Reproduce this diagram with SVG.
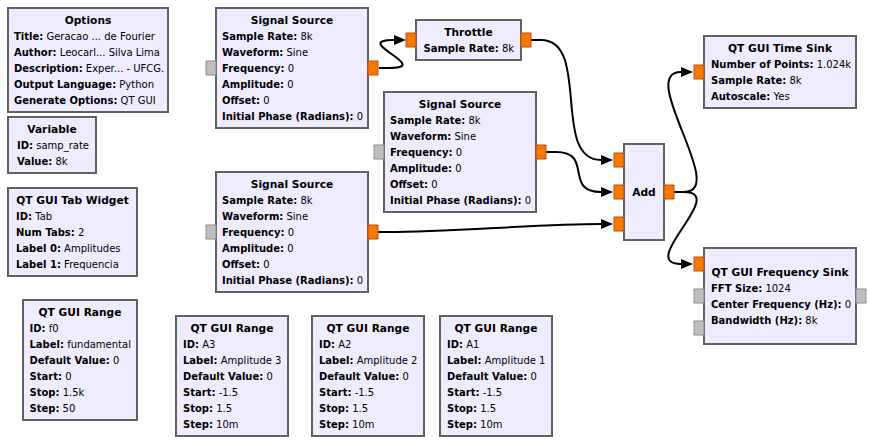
<svg xmlns="http://www.w3.org/2000/svg" width="874" height="444" viewBox="0 0 874 444">
<defs>
<style>
.blk{fill:#F0ECFF;stroke:#616161;stroke-width:2}
.t{font-family:"DejaVu Sans",sans-serif;font-size:10.67px;font-weight:bold;text-anchor:middle;fill:#000}
.p{font-family:"DejaVu Sans",sans-serif;font-size:10px;fill:#000}
.k{font-weight:bold}
.po{fill:#F57900;stroke:#C0501F;stroke-width:1}
.pg{fill:#BEBEBE;stroke:#8C8C8C;stroke-width:1}
.c{fill:none;stroke:#000;stroke-width:2;marker-end:url(#arr)}
</style>
<marker id="arr" viewBox="0 0 12 10" refX="0" refY="5" markerWidth="12" markerHeight="10" markerUnits="userSpaceOnUse" orient="auto">
<path d="M0,0 L12,5 L0,10 z" fill="#000"/>
</marker>
</defs>
<rect width="874" height="444" fill="#fff"/>
<g id="connectors">
<path class="c" d="M379,68 H389 C434,68 349,40 394,40"/>
<path class="c" d="M531,40 H541 C591,40 551,160 601,160"/>
<path class="c" d="M546,152 H556 C594,152 563,192 601,192"/>
<path class="c" d="M378,232 H388 C448,232 541,224 601,224"/>
<path class="c" d="M674,192 H684 C729,192 636,72 681,72"/>
<path class="c" d="M674,192 H684 C729,192 636,264 681,264"/>
</g>
<g id="options">
<rect class="blk" x="8" y="8" width="160" height="104"/>
<text class="t" x="88" y="24">Options</text>
<text class="p" x="14" y="40"><tspan class="k">Title:</tspan> Geracao ... de Fourier</text>
<text class="p" x="14" y="56"><tspan class="k">Author:</tspan> Leocarl... Silva Lima</text>
<text class="p" x="14" y="72"><tspan class="k">Description:</tspan> Exper... - UFCG.</text>
<text class="p" x="14" y="88"><tspan class="k">Output Language:</tspan> Python</text>
<text class="p" x="14" y="104"><tspan class="k">Generate Options:</tspan> QT GUI</text>
</g>
<g id="variable">
<rect class="blk" x="8" y="117" width="88" height="56"/>
<text class="t" x="52" y="133">Variable</text>
<text class="p" x="17" y="149"><tspan class="k">ID:</tspan> samp_rate</text>
<text class="p" x="17" y="165"><tspan class="k">Value:</tspan> 8k</text>
</g>
<g id="tab_widget">
<rect class="blk" x="8" y="188" width="129" height="88"/>
<text class="t" x="72.5" y="204">QT GUI Tab Widget</text>
<text class="p" x="16" y="220"><tspan class="k">ID:</tspan> Tab</text>
<text class="p" x="16" y="236"><tspan class="k">Num Tabs:</tspan> 2</text>
<text class="p" x="16" y="252"><tspan class="k">Label 0:</tspan> Amplitudes</text>
<text class="p" x="16" y="268"><tspan class="k">Label 1:</tspan> Frequencia</text>
</g>
<g id="range_f0">
<rect class="blk" x="23" y="300" width="114" height="120"/>
<text class="t" x="80" y="316">QT GUI Range</text>
<text class="p" x="29.5" y="332"><tspan class="k">ID:</tspan> f0</text>
<text class="p" x="29.5" y="348"><tspan class="k">Label:</tspan> fundamental</text>
<text class="p" x="29.5" y="364"><tspan class="k">Default Value:</tspan> 0</text>
<text class="p" x="29.5" y="380"><tspan class="k">Start:</tspan> 0</text>
<text class="p" x="29.5" y="396"><tspan class="k">Stop:</tspan> 1.5k</text>
<text class="p" x="29.5" y="412"><tspan class="k">Step:</tspan> 50</text>
</g>
<g id="signal_source_1">
<rect class="blk" x="216" y="8" width="152" height="120"/>
<text class="t" x="292" y="24">Signal Source</text>
<text class="p" x="222" y="40"><tspan class="k">Sample Rate:</tspan> 8k</text>
<text class="p" x="222" y="56"><tspan class="k">Waveform:</tspan> Sine</text>
<text class="p" x="222" y="72"><tspan class="k">Frequency:</tspan> 0</text>
<text class="p" x="222" y="88"><tspan class="k">Amplitude:</tspan> 0</text>
<text class="p" x="222" y="104"><tspan class="k">Offset:</tspan> 0</text>
<text class="p" x="222" y="120"><tspan class="k">Initial Phase (Radians):</tspan> 0</text>
<rect class="pg" x="206" y="61" width="10" height="14"/>
<rect class="po" x="368" y="61" width="10" height="14"/>
</g>
<g id="throttle">
<rect class="blk" x="416" y="20" width="105" height="40"/>
<text class="t" x="468.5" y="36">Throttle</text>
<text class="p" x="423.5" y="52"><tspan class="k">Sample Rate:</tspan> 8k</text>
<rect class="po" x="406" y="33" width="10" height="14"/>
<rect class="po" x="521" y="33" width="10" height="14"/>
</g>
<g id="signal_source_2">
<rect class="blk" x="384" y="92" width="152" height="120"/>
<text class="t" x="460" y="108">Signal Source</text>
<text class="p" x="390" y="124"><tspan class="k">Sample Rate:</tspan> 8k</text>
<text class="p" x="390" y="140"><tspan class="k">Waveform:</tspan> Sine</text>
<text class="p" x="390" y="156"><tspan class="k">Frequency:</tspan> 0</text>
<text class="p" x="390" y="172"><tspan class="k">Amplitude:</tspan> 0</text>
<text class="p" x="390" y="188"><tspan class="k">Offset:</tspan> 0</text>
<text class="p" x="390" y="204"><tspan class="k">Initial Phase (Radians):</tspan> 0</text>
<rect class="pg" x="374" y="145" width="10" height="14"/>
<rect class="po" x="536" y="145" width="10" height="14"/>
</g>
<g id="signal_source_3">
<rect class="blk" x="216" y="172" width="152" height="120"/>
<text class="t" x="292" y="188">Signal Source</text>
<text class="p" x="222" y="204"><tspan class="k">Sample Rate:</tspan> 8k</text>
<text class="p" x="222" y="220"><tspan class="k">Waveform:</tspan> Sine</text>
<text class="p" x="222" y="236"><tspan class="k">Frequency:</tspan> 0</text>
<text class="p" x="222" y="252"><tspan class="k">Amplitude:</tspan> 0</text>
<text class="p" x="222" y="268"><tspan class="k">Offset:</tspan> 0</text>
<text class="p" x="222" y="284"><tspan class="k">Initial Phase (Radians):</tspan> 0</text>
<rect class="pg" x="206" y="225" width="10" height="14"/>
<rect class="po" x="368" y="225" width="10" height="14"/>
</g>
<g id="add">
<rect class="blk" x="624" y="144" width="40" height="96"/>
<text class="t" x="644" y="196">Add</text>
<rect class="po" x="614" y="153" width="10" height="14"/>
<rect class="po" x="614" y="185" width="10" height="14"/>
<rect class="po" x="614" y="217" width="10" height="14"/>
<rect class="po" x="664" y="185" width="10" height="14"/>
</g>
<g id="time_sink">
<rect class="blk" x="704" y="36" width="152" height="72"/>
<text class="t" x="780" y="52">QT GUI Time Sink</text>
<text class="p" x="711" y="68"><tspan class="k">Number of Points:</tspan> 1.024k</text>
<text class="p" x="711" y="84"><tspan class="k">Sample Rate:</tspan> 8k</text>
<text class="p" x="711" y="100"><tspan class="k">Autoscale:</tspan> Yes</text>
<rect class="po" x="694" y="65" width="10" height="14"/>
</g>
<g id="freq_sink">
<rect class="blk" x="704" y="248" width="152" height="96"/>
<text class="t" x="780" y="276">QT GUI Frequency Sink</text>
<text class="p" x="711" y="292"><tspan class="k">FFT Size:</tspan> 1024</text>
<text class="p" x="711" y="308"><tspan class="k">Center Frequency (Hz):</tspan> 0</text>
<text class="p" x="711" y="324"><tspan class="k">Bandwidth (Hz):</tspan> 8k</text>
<rect class="po" x="694" y="257" width="10" height="14"/>
<rect class="pg" x="694" y="289" width="10" height="14"/>
<rect class="pg" x="694" y="321" width="10" height="14"/>
<rect class="pg" x="856" y="289" width="10" height="14"/>
</g>
<g id="range_a3">
<rect class="blk" x="176" y="316" width="112" height="120"/>
<text class="t" x="232" y="332">QT GUI Range</text>
<text class="p" x="183" y="348"><tspan class="k">ID:</tspan> A3</text>
<text class="p" x="183" y="364"><tspan class="k">Label:</tspan> Amplitude 3</text>
<text class="p" x="183" y="380"><tspan class="k">Default Value:</tspan> 0</text>
<text class="p" x="183" y="396"><tspan class="k">Start:</tspan> -1.5</text>
<text class="p" x="183" y="412"><tspan class="k">Stop:</tspan> 1.5</text>
<text class="p" x="183" y="428"><tspan class="k">Step:</tspan> 10m</text>
</g>
<g id="range_a2">
<rect class="blk" x="312" y="316" width="112" height="120"/>
<text class="t" x="368" y="332">QT GUI Range</text>
<text class="p" x="319" y="348"><tspan class="k">ID:</tspan> A2</text>
<text class="p" x="319" y="364"><tspan class="k">Label:</tspan> Amplitude 2</text>
<text class="p" x="319" y="380"><tspan class="k">Default Value:</tspan> 0</text>
<text class="p" x="319" y="396"><tspan class="k">Start:</tspan> -1.5</text>
<text class="p" x="319" y="412"><tspan class="k">Stop:</tspan> 1.5</text>
<text class="p" x="319" y="428"><tspan class="k">Step:</tspan> 10m</text>
</g>
<g id="range_a1">
<rect class="blk" x="440" y="316" width="112" height="120"/>
<text class="t" x="496" y="332">QT GUI Range</text>
<text class="p" x="447" y="348"><tspan class="k">ID:</tspan> A1</text>
<text class="p" x="447" y="364"><tspan class="k">Label:</tspan> Amplitude 1</text>
<text class="p" x="447" y="380"><tspan class="k">Default Value:</tspan> 0</text>
<text class="p" x="447" y="396"><tspan class="k">Start:</tspan> -1.5</text>
<text class="p" x="447" y="412"><tspan class="k">Stop:</tspan> 1.5</text>
<text class="p" x="447" y="428"><tspan class="k">Step:</tspan> 10m</text>
</g>
</svg>
